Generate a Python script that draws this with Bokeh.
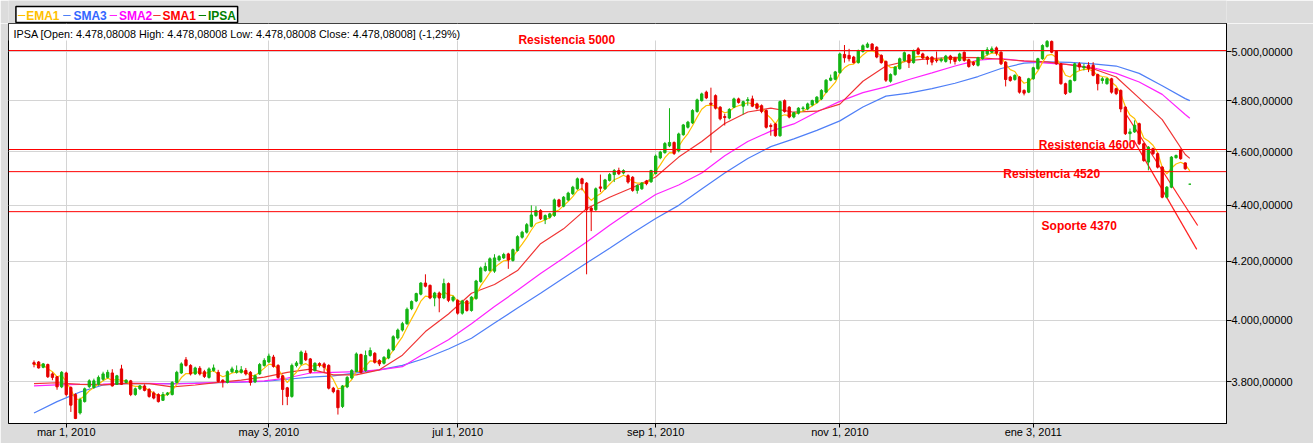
import pandas as pd
from bokeh.plotting import figure
from bokeh.layouts import column
from bokeh.models import Range1d, FixedTicker, Span, Label, BoxAnnotation, ColumnDataSource
from bokeh.embed import file_html
from bokeh.resources import INLINE

# ---------------- data ----------------
START = "2010-02-18"
HOLIDAYS = ["2010-04-02", "2010-05-21", "2010-06-28", "2010-07-16", "2010-09-17",
            "2010-09-20", "2010-10-11", "2010-11-01", "2010-12-08", "2010-12-31"]

opens = [3861, 3863, 3846, 3855, 3825, 3816, 3784, 3828, 3782, 3760,
         3703, 3738, 3785, 3782, 3792, 3808, 3814, 3828, 3792, 3841,
         3798, 3803, 3760, 3778, 3787, 3776, 3765, 3760, 3742, 3760,
         3760, 3798, 3828, 3870, 3852, 3825, 3843, 3832, 3814, 3836,
         3830, 3805, 3798, 3832, 3830, 3830, 3836, 3830, 3800, 3825,
         3852, 3863, 3879, 3852, 3819, 3781, 3754, 3852, 3857, 3891,
         3873, 3836, 3858, 3857, 3852, 3780, 3773, 3723, 3784, 3812,
         3833, 3887, 3836, 3884, 3891, 3868, 3859, 3876, 3902, 3941,
         3967, 3988, 4038, 4064, 4087, 4125, 4117, 4074, 4091, 4074,
         4123, 4066, 4066, 4023, 4064, 4032, 4072, 4130, 4168, 4168,
         4166, 4205, 4212, 4226, 4203, 4238, 4285, 4303, 4324, 4363,
         4381, 4348, 4357, 4363, 4420, 4397, 4420, 4443, 4461, 4498,
         4482, 4390, 4384, 4468, 4461, 4492, 4514, 4529, 4520, 4510,
         4504, 4455, 4461, 4490, 4487, 4518, 4577, 4597, 4623, 4636,
         4604, 4666, 4695, 4712, 4757, 4800, 4834, 4790, 4820, 4774,
         4737, 4731, 4774, 4807, 4778, 4800, 4807, 4787, 4780, 4761,
         4702, 4708, 4662, 4800, 4774, 4735, 4750, 4768, 4767, 4783,
         4793, 4807, 4834, 4882, 4886, 4913, 4988, 4984, 4977, 4954,
         5000, 5018, 5031, 5018, 4984, 4959, 4878, 4905, 4929, 4963,
         4986, 4954, 5011, 4990, 4977, 4977, 4965, 4962, 4959, 4981,
         4973, 4963, 4997, 4966, 4956, 4943, 4970, 4990, 4997, 5015,
         4997, 4956, 4895, 4885, 4895, 4841, 4834, 4888, 4929, 4970,
         5021, 5042, 5001, 4949, 4868, 4834, 4881, 4949, 4933, 4943,
         4943, 4905, 4881, 4868, 4888, 4848, 4841, 4774, 4670, 4677,
         4709, 4631, 4561, 4612, 4593, 4542, 4430, 4467, 4578, 4608,
         4558, 4478.08]
highs = [3868, 3866, 3860, 3858, 3830, 3818, 3834, 3832, 3786, 3764,
         3750, 3782, 3808, 3810, 3820, 3832, 3838, 3840, 3822, 3854,
         3808, 3806, 3782, 3790, 3792, 3780, 3770, 3764, 3768, 3768,
         3802, 3835, 3862, 3879, 3856, 3848, 3850, 3838, 3846, 3855,
         3838, 3808, 3836, 3848, 3852, 3850, 3844, 3834, 3824, 3860,
         3875, 3890, 3886, 3856, 3822, 3784, 3858, 3866, 3900, 3900,
         3876, 3862, 3862, 3862, 3856, 3784, 3776, 3790, 3818, 3840,
         3894, 3890, 3900, 3910, 3895, 3872, 3882, 3906, 3950, 3972,
         3994, 4042, 4066, 4092, 4128, 4155, 4120, 4095, 4096, 4140,
         4127, 4082, 4070, 4068, 4068, 4080, 4136, 4182, 4196, 4214,
         4225, 4222, 4230, 4230, 4245, 4292, 4308, 4336, 4400, 4397,
         4386, 4367, 4373, 4425, 4424, 4434, 4450, 4472, 4503, 4502,
         4486, 4396, 4466, 4514, 4498, 4520, 4535, 4540, 4534, 4515,
         4508, 4478, 4486, 4494, 4532, 4590, 4604, 4638, 4770, 4640,
         4674, 4708, 4720, 4766, 4808, 4832, 4840, 4852, 4825, 4778,
         4748, 4770, 4812, 4812, 4800, 4814, 4820, 4792, 4785, 4765,
         4710, 4712, 4800, 4805, 4778, 4756, 4774, 4778, 4792, 4804,
         4818, 4846, 4887, 4905, 4920, 4995, 5027, 5011, 4982, 5008,
         5030, 5038, 5035, 5022, 4988, 4963, 4910, 4940, 4975, 5000,
         4990, 5008, 5018, 4995, 4982, 4980, 5000, 4975, 4986, 4986,
         4978, 4995, 5000, 4970, 4960, 4978, 5005, 5018, 5021, 5021,
         5001, 4960, 4900, 4906, 4899, 4845, 4892, 4937, 4974, 5030,
         5048, 5046, 5005, 4953, 4872, 4885, 4953, 4956, 4949, 4956,
         4956, 4909, 4895, 4892, 4892, 4852, 4845, 4778, 4690, 4722,
         4713, 4635, 4622, 4616, 4597, 4546, 4471, 4584, 4590, 4612,
         4560, 4478.08]
lows = [3846, 3842, 3843, 3812, 3805, 3775, 3780, 3754, 3706, 3684,
        3698, 3735, 3780, 3778, 3788, 3804, 3810, 3785, 3790, 3790,
        3795, 3755, 3756, 3774, 3770, 3750, 3745, 3735, 3740, 3756,
        3757, 3795, 3825, 3848, 3820, 3822, 3820, 3812, 3810, 3832,
        3798, 3782, 3795, 3828, 3826, 3826, 3820, 3788, 3796, 3822,
        3848, 3860, 3845, 3810, 3727, 3727, 3750, 3846, 3852, 3866,
        3826, 3832, 3846, 3830, 3776, 3764, 3698, 3718, 3780, 3808,
        3830, 3826, 3832, 3880, 3858, 3850, 3855, 3872, 3898, 3936,
        3962, 3984, 4033, 4060, 4083, 4110, 4070, 4046, 4026, 4070,
        4060, 4060, 4018, 4018, 4028, 4028, 4068, 4126, 4164, 4164,
        4160, 4200, 4208, 4174, 4199, 4234, 4280, 4298, 4320, 4358,
        4347, 4332, 4352, 4358, 4392, 4393, 4416, 4438, 4457, 4455,
        4155, 4307, 4380, 4449, 4457, 4488, 4486, 4512, 4515, 4480,
        4450, 4443, 4457, 4474, 4483, 4514, 4572, 4593, 4618, 4588,
        4598, 4662, 4690, 4708, 4752, 4796, 4806, 4597, 4765, 4722,
        4702, 4726, 4770, 4788, 4745, 4780, 4774, 4765, 4750, 4690,
        4662, 4658, 4658, 4752, 4730, 4730, 4745, 4757, 4762, 4778,
        4788, 4802, 4830, 4878, 4882, 4908, 4954, 4959, 4950, 4950,
        4995, 5014, 5004, 4972, 4950, 4875, 4872, 4900, 4925, 4958,
        4932, 4950, 4986, 4968, 4946, 4943, 4954, 4955, 4954, 4950,
        4946, 4958, 4958, 4933, 4940, 4938, 4966, 4983, 4993, 4983,
        4944, 4857, 4876, 4880, 4828, 4821, 4830, 4884, 4925, 4966,
        5016, 4993, 4945, 4864, 4823, 4830, 4877, 4922, 4922, 4915,
        4898, 4841, 4868, 4864, 4828, 4822, 4754, 4665, 4643, 4673,
        4626, 4562, 4530, 4588, 4537, 4426, 4426, 4463, 4574, 4570,
        4532, 4478.08]
closes = [3856, 3844, 3857, 3816, 3814, 3784, 3830, 3760, 3727, 3686,
          3744, 3778, 3803, 3803, 3814, 3825, 3830, 3787, 3819, 3792,
          3805, 3760, 3778, 3787, 3773, 3754, 3749, 3738, 3760, 3765,
          3798, 3830, 3857, 3852, 3825, 3844, 3825, 3817, 3841, 3844,
          3801, 3800, 3832, 3841, 3836, 3838, 3825, 3798, 3819, 3855,
          3868, 3882, 3849, 3814, 3776, 3754, 3852, 3860, 3895, 3870,
          3830, 3859, 3853, 3846, 3780, 3769, 3719, 3787, 3814, 3836,
          3889, 3830, 3884, 3900, 3862, 3857, 3878, 3902, 3945, 3967,
          3988, 4036, 4062, 4089, 4125, 4114, 4074, 4091, 4074, 4123,
          4066, 4077, 4023, 4064, 4032, 4077, 4132, 4177, 4182, 4209,
          4212, 4217, 4224, 4205, 4241, 4287, 4303, 4330, 4365, 4381,
          4351, 4363, 4369, 4420, 4397, 4430, 4445, 4467, 4498, 4480,
          4384, 4381, 4461, 4463, 4494, 4514, 4529, 4517, 4529, 4486,
          4455, 4473, 4482, 4480, 4529, 4584, 4599, 4632, 4636, 4594,
          4669, 4704, 4715, 4761, 4803, 4827, 4811, 4785, 4770, 4728,
          4733, 4765, 4807, 4793, 4796, 4804, 4778, 4770, 4757, 4695,
          4698, 4662, 4796, 4757, 4735, 4752, 4770, 4771, 4787, 4800,
          4814, 4841, 4882, 4891, 4916, 4990, 4974, 4970, 4954, 5004,
          5024, 5031, 5008, 4977, 4954, 4882, 4905, 4936, 4970, 4995,
          4954, 5004, 4990, 4973, 4967, 4956, 4962, 4968, 4981, 4967,
          4959, 4990, 4963, 4938, 4946, 4974, 5001, 5007, 5011, 4993,
          4949, 4885, 4881, 4902, 4834, 4830, 4888, 4933, 4970, 5025,
          5042, 4997, 4949, 4868, 4828, 4881, 4949, 4936, 4938, 4929,
          4902, 4868, 4888, 4888, 4834, 4828, 4767, 4670, 4677, 4703,
          4631, 4567, 4618, 4593, 4542, 4430, 4467, 4580, 4586, 4574,
          4536, 4478.08]

# moving averages, one value every 5 sessions (+ last session)
ma_days = [0, 5, 10, 15, 20, 25, 30, 35, 40, 45, 50, 55, 60, 65, 70, 75, 80, 85, 90, 95,
           100, 105, 110, 115, 120, 125, 130, 135, 140, 145, 150, 155, 160, 165, 170, 175,
           180, 185, 190, 195, 200, 205, 210, 215, 220, 225, 230, 235, 240, 245, 250, 251]
sma1 = [3794, 3797, 3792, 3790, 3795, 3794, 3784, 3790, 3798, 3805, 3815, 3830, 3840, 3822,
        3822, 3838, 3885, 3962, 4020, 4090, 4120, 4168, 4262, 4315, 4388, 4430, 4466, 4505,
        4580, 4640, 4710, 4755, 4770, 4754, 4758, 4786, 4878, 4940, 4962, 4971, 4976, 4975,
        4968, 4961, 4957, 4945, 4929, 4895, 4810, 4725, 4590, 4575]
sma2 = [3787, 3790, 3792, 3793, 3795, 3795, 3793, 3795, 3798, 3800, 3803, 3812, 3828, 3830,
        3832, 3838, 3848, 3893, 3935, 3988, 4045, 4100, 4158, 4212, 4268, 4328, 4385, 4440,
        4475, 4520, 4585, 4640, 4680, 4708, 4755, 4797, 4832, 4855, 4885, 4912, 4940, 4964,
        4971, 4960, 4952, 4946, 4933, 4910, 4875, 4825, 4745, 4730]
sma3 = [3703, 3738, 3768, 3790, 3794, 3794, 3794, 3796, 3797, 3799, 3801, 3808, 3815, 3819,
        3828, 3838, 3852, 3875, 3905, 3940, 3990, 4040, 4090, 4142, 4194, 4246, 4300, 4352,
        4400, 4460, 4520, 4575, 4620, 4650, 4683, 4720, 4775, 4818, 4830, 4848, 4870, 4897,
        4930, 4952, 4957, 4955, 4949, 4940, 4910, 4860, 4808, 4800]
EMA_SPAN = 5

# hand-drawn trend lines (session index, level)
trend1_days = [237.0, 252.7]
trend1_vals = [4750, 4327]
trend2_days = [238.8, 252.5]
trend2_vals = [4645, 4242]

levels = [5004, 4609, 4525, 4377]
level_texts = ["Resistencia 5000", "Resistencia 4600", "Resistencia 4520", "Soporte 4370"]
level_text_day = [105.2, 218.2, 210.5, 218.8]
level_text_val = [5050, 4628, 4516, 4325]

tick_dates = ["2010-03-01", "2010-05-03", "2010-07-01", "2010-09-01", "2010-11-01", "2011-01-03"]
tick_labels = ["mar 1, 2010", "may 3, 2010", "jul 1, 2010", "sep 1, 2010", "nov 1, 2010", "ene 3, 2011"]
y_ticks = [3800, 4000, 4200, 4400, 4600, 4800, 5000]
y_labels = ["3.800,00000", "4.000,00000", "4.200,00000", "4.400,00000",
            "4.600,00000", "4.800,00000", "5.000,00000"]
header = ("IPSA [Open: 4.478,08008  High: 4.478,08008  Low: 4.478,08008  "
          "Close: 4.478,08008] (-1,29%)")
legend_names = ["EMA1", "SMA3", "SMA2", "SMA1", "IPSA"]

# ---------------- derived ----------------
n = len(closes)
all_days = [d for d in pd.bdate_range(START, periods=400) if d.strftime("%Y-%m-%d") not in HOLIDAYS]
dates = pd.DatetimeIndex(all_days[:n])
tick_pos = [int(dates.searchsorted(pd.Timestamp(t))) for t in tick_dates]
ema1 = pd.Series(closes, dtype=float).ewm(span=EMA_SPAN, adjust=False).mean().tolist()

GREEN = "#14b414"
RED = "#e60000"
C_EMA = "#ffc000"
C_SMA3 = "#4f7ff7"
C_SMA2 = "#ff22ff"
C_SMA1 = "#f03535"
BG = "#dcdcdc"
FONT = "Liberation Sans"

colors = [GREEN if c >= o else RED for o, c in zip(opens, closes)]
src = ColumnDataSource(dict(
    x=list(range(n)), top=[max(o, c) for o, c in zip(opens, closes)],
    bottom=[min(o, c) for o, c in zip(opens, closes)],
    high=highs, low=lows, color=colors))

# ---------------- legend strip (top) ----------------
leg = figure(width=1313, height=23, output_backend="svg", toolbar_location=None,
             x_range=Range1d(0, 1313), y_range=Range1d(0, 23),
             x_axis_location=None, y_axis_location=None,
             min_border=0, min_border_left=0, min_border_right=0,
             min_border_top=0, min_border_bottom=0)
leg.background_fill_color = BG
leg.border_fill_color = BG
leg.outline_line_color = None
leg.xgrid.visible = False
leg.ygrid.visible = False
leg.quad(left=[8], right=[247], bottom=[1], top=[17], fill_color="white",
         line_color="black", line_width=1.5)
leg_colors = [C_EMA, C_SMA3, C_SMA2, C_SMA1, "#008000"]
leg_text_colors = ["#ffc000", "#3366ff", "#ff00ff", "#ff0000", "#008000"]
line_x = [10, 59, 109, 156, 205]
text_x = [19, 70, 119, 166, 215]
leg.segment(x0=line_x, y0=[8] * 5, x1=[x + 8 for x in line_x], y1=[8] * 5,
            line_color=leg_colors, line_width=1)
for name, tc, tx in zip(legend_names, leg_text_colors, text_x):
    leg.add_layout(Label(x=tx, y=8, text=name, text_color=tc, text_font=FONT,
                         text_font_style="bold", text_font_size="12px",
                         text_baseline="middle"))

# ---------------- main chart ----------------
p = figure(frame_width=1218, frame_height=400, output_backend="svg", toolbar_location=None,
           x_range=Range1d(-5.54, 258.96), y_range=Range1d(3670.6, 5117.7),
           y_axis_type="log", y_axis_location="right",
           min_border_left=8, min_border_right=87, min_border_top=0, min_border_bottom=20)
p.background_fill_color = "white"
p.border_fill_color = BG
p.outline_line_color = "black"
p.outline_line_width = 1

p.yaxis.ticker = FixedTicker(ticks=y_ticks)
p.yaxis.major_label_overrides = {t: l for t, l in zip(y_ticks, y_labels)}
p.xaxis.ticker = FixedTicker(ticks=tick_pos)
p.xaxis.major_label_overrides = {t: l for t, l in zip(tick_pos, tick_labels)}
for ax in (p.xaxis, p.yaxis):
    ax.axis_line_color = "black"
    ax.major_tick_line_color = "black"
    ax.minor_tick_line_color = None
    ax.major_tick_in = 0
    ax.major_label_text_font = FONT
    ax.major_label_text_font_size = "11px"
    ax.major_label_text_color = "black"
p.yaxis.major_tick_out = 5
p.yaxis.major_label_standoff = 0
p.xaxis.major_tick_out = 4
p.xaxis.major_label_standoff = -2
p.xgrid.grid_line_color = "#d4d4d4"
p.ygrid.grid_line_color = "#d4d4d4"

# white header band at the top of the frame
p.add_layout(BoxAnnotation(bottom=5046, fill_color="white", fill_alpha=1.0,
                           line_color=None, level="underlay"))

# moving averages
p.line(ma_days, sma3, line_color=C_SMA3, line_width=1.2)
p.line(ma_days, sma2, line_color=C_SMA2, line_width=1.2)
p.line(ma_days, sma1, line_color=C_SMA1, line_width=1.2)
p.line(list(range(n)), ema1, line_color=C_EMA, line_width=1.2)

# trend lines
p.line(trend1_days, trend1_vals, line_color="#ff2020", line_width=1.2)
p.line(trend2_days, trend2_vals, line_color="#ff2020", line_width=1.2)

# candles
p.segment(x0="x", y0="low", x1="x", y1="high", line_color="color", line_width=1, source=src)
p.vbar(x="x", width=0.5, top="top", bottom="bottom", fill_color="color",
       line_color="color", line_width=1, source=src)

# support / resistance levels
for lv in levels:
    p.add_layout(Span(location=lv, dimension="width", line_color="red", line_width=1))
for t, d, v in zip(level_texts, level_text_day, level_text_val):
    p.add_layout(Label(x=d, y=v, text=t, text_color="red", text_font=FONT,
                       text_font_style="bold", text_font_size="12px", text_baseline="middle"))

# header text inside the frame
p.add_layout(Label(x=5, y=390, x_units="screen", y_units="screen", text=header,
                   text_font=FONT, text_font_size="10.8px", text_baseline="middle",
                   text_color="black"))

# ---------------- bottom strip (start of next pane) ----------------
bot = figure(width=1313, height=4, output_backend="svg", toolbar_location=None,
             x_range=Range1d(0, 1313), y_range=Range1d(0, 4),
             x_axis_location=None, y_axis_location=None,
             min_border_left=0, min_border_right=0, min_border_top=0, min_border_bottom=0)
bot.background_fill_color = BG
bot.border_fill_color = BG
bot.outline_line_color = None
bot.xgrid.visible = False
bot.ygrid.visible = False
bot.quad(left=[8], right=[1226], bottom=[-2], top=[3.5], fill_color="white",
         line_color="black", line_width=1)

layout = column(leg, p, bot, spacing=0)
open("out.html", "w").write(file_html(layout, INLINE))
